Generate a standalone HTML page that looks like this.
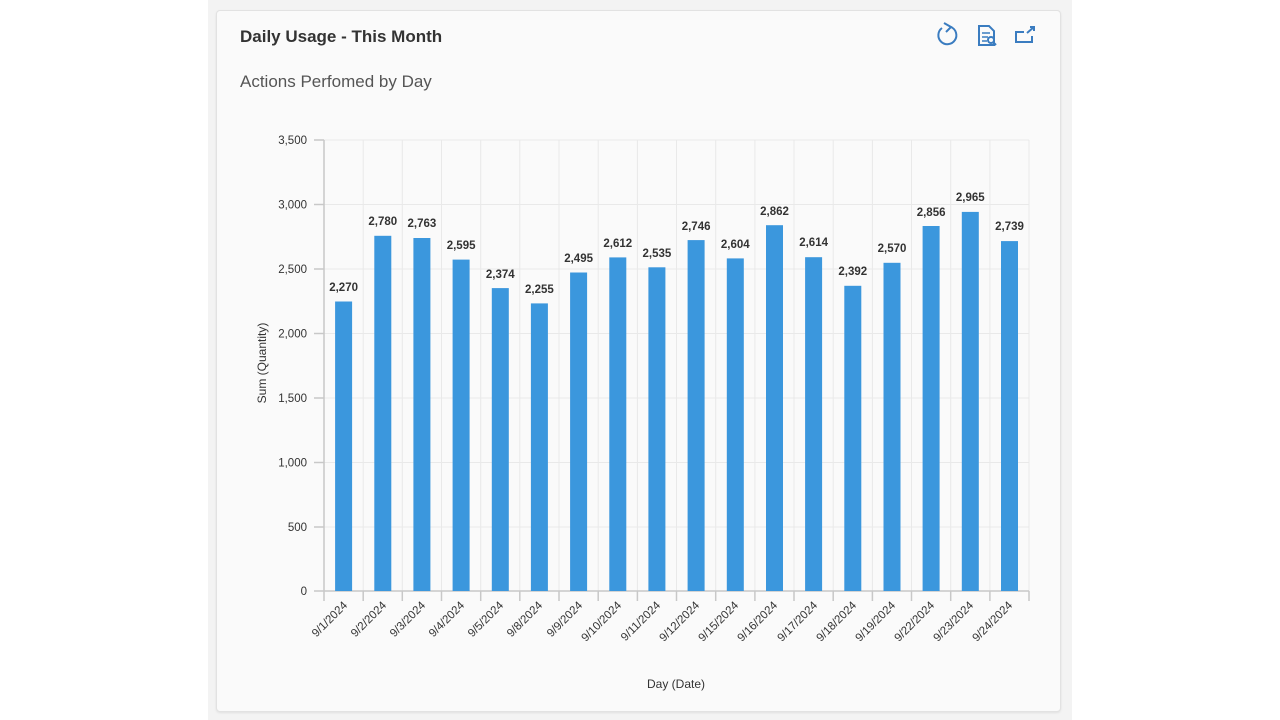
<!DOCTYPE html>
<html><head><meta charset="utf-8"><style>
body{margin:0;width:1280px;height:720px;background:#fff;font-family:"Liberation Sans",sans-serif;overflow:hidden}
.bg{position:absolute;left:208px;top:0;width:864px;height:720px;background:#f3f3f3}
.card{position:absolute;left:216px;top:10px;width:843px;height:700px;background:#fafafa;border:1px solid #e2e2e2;border-radius:4px;box-shadow:0 1px 2px rgba(0,0,0,.08)}
</style></head><body>
<div class="bg"></div><div class="card"></div>
<svg width="1280" height="720" style="position:absolute;left:0;top:0" font-family="Liberation Sans, sans-serif">
<text x="240" y="42" font-size="17" font-weight="bold" fill="#333">Daily Usage - This Month</text>
<text x="240" y="87" font-size="17" fill="#555">Actions Perfomed by Day</text>
<g fill="none" stroke="#3a7cc0" stroke-width="2">
<path d="M951 27 A9 9 0 1 1 942 28"/><path d="M944 23 L951 27 L946 32" />
<path d="M979 26 h10 l5 5 v14 h-15 z"/><path d="M982 33h8M982 37h6M982 41h5" stroke-width="1.4"/><circle cx="991" cy="40" r="3"/><path d="M993 42l3 3"/>
<path d="M1024 32 h-8 v10 h16 v-6"/><path d="M1027 33 l7-6 M1030 27h4v4"/>
</g>
<g stroke="#e9e9e9" stroke-width="1">
<path d="M324 140H1029M324 204.5H1029M324 269H1029M324 333.5H1029M324 398H1029M324 462.5H1029M324 527H1029"/>
<path d="M363.2 140V591M402.3 140V591M441.5 140V591M480.7 140V591M519.8 140V591M559 140V591M598.2 140V591M637.4 140V591M676.5 140V591M715.7 140V591M754.9 140V591M794 140V591M833.2 140V591M872.4 140V591M911.5 140V591M950.7 140V591M989.9 140V591M1029 140V591"/>
</g>
<g stroke="#c8c8c8" stroke-width="1.5">
<path d="M324 140V591M314 591H1029M314 140H324M314 204.5H324M314 269H324M314 333.5H324M314 398H324M314 462.5H324M314 527H324"/>
<path d="M324 591v10M363.2 591v10M402.3 591v10M441.5 591v10M480.7 591v10M519.8 591v10M559 591v10M598.2 591v10M637.4 591v10M676.5 591v10M715.7 591v10M754.9 591v10M794 591v10M833.2 591v10M872.4 591v10M911.5 591v10M950.7 591v10M989.9 591v10M1029 591v10"/>
</g>
<g font-size="11.5" fill="#333" text-anchor="end">
<text x="307" y="144">3,500</text><text x="307" y="208.5">3,000</text><text x="307" y="273">2,500</text><text x="307" y="337.5">2,000</text><text x="307" y="402">1,500</text><text x="307" y="466.5">1,000</text><text x="307" y="531">500</text><text x="307" y="595">0</text>
</g>
<g fill="#3b97dd">
<rect x="335.1" y="301.5" width="17" height="289.5"/>
<rect x="374.3" y="235.8" width="17" height="355.2"/>
<rect x="413.4" y="238" width="17" height="353"/>
<rect x="452.6" y="259.6" width="17" height="331.4"/>
<rect x="491.8" y="288.1" width="17" height="302.9"/>
<rect x="530.9" y="303.4" width="17" height="287.6"/>
<rect x="570.1" y="272.5" width="17" height="318.5"/>
<rect x="609.3" y="257.4" width="17" height="333.6"/>
<rect x="648.4" y="267.3" width="17" height="323.7"/>
<rect x="687.6" y="240.1" width="17" height="350.9"/>
<rect x="726.8" y="258.4" width="17" height="332.6"/>
<rect x="766" y="225.2" width="17" height="365.8"/>
<rect x="805.1" y="257.2" width="17" height="333.8"/>
<rect x="844.3" y="285.8" width="17" height="305.2"/>
<rect x="883.5" y="262.8" width="17" height="328.2"/>
<rect x="922.6" y="226" width="17" height="365"/>
<rect x="961.8" y="211.9" width="17" height="379.1"/>
<rect x="1001" y="241.1" width="17" height="349.9"/>
</g>
<g font-size="11.5" font-weight="bold" fill="#333" text-anchor="middle">
<text x="343.6" y="291">2,270</text><text x="382.8" y="225">2,780</text><text x="421.9" y="227">2,763</text><text x="461.1" y="249">2,595</text><text x="500.3" y="278">2,374</text><text x="539.4" y="293">2,255</text><text x="578.6" y="262">2,495</text><text x="617.8" y="247">2,612</text><text x="656.9" y="257">2,535</text><text x="696.1" y="230">2,746</text><text x="735.3" y="248">2,604</text><text x="774.5" y="215">2,862</text><text x="813.6" y="246">2,614</text><text x="852.8" y="275">2,392</text><text x="892" y="252">2,570</text><text x="931.1" y="216">2,856</text><text x="970.3" y="201">2,965</text><text x="1009.5" y="230">2,739</text>
</g>
<g font-size="11.5" fill="#333" text-anchor="end">
<text transform="translate(348,606) rotate(-45)">9/1/2024</text>
<text transform="translate(387,606) rotate(-45)">9/2/2024</text>
<text transform="translate(426,606) rotate(-45)">9/3/2024</text>
<text transform="translate(465,606) rotate(-45)">9/4/2024</text>
<text transform="translate(504,606) rotate(-45)">9/5/2024</text>
<text transform="translate(543,606) rotate(-45)">9/8/2024</text>
<text transform="translate(583,606) rotate(-45)">9/9/2024</text>
<text transform="translate(622,606) rotate(-45)">9/10/2024</text>
<text transform="translate(661,606) rotate(-45)">9/11/2024</text>
<text transform="translate(700,606) rotate(-45)">9/12/2024</text>
<text transform="translate(739,606) rotate(-45)">9/15/2024</text>
<text transform="translate(778,606) rotate(-45)">9/16/2024</text>
<text transform="translate(818,606) rotate(-45)">9/17/2024</text>
<text transform="translate(857,606) rotate(-45)">9/18/2024</text>
<text transform="translate(896,606) rotate(-45)">9/19/2024</text>
<text transform="translate(935,606) rotate(-45)">9/22/2024</text>
<text transform="translate(974,606) rotate(-45)">9/23/2024</text>
<text transform="translate(1013,606) rotate(-45)">9/24/2024</text>
</g>
<text x="676" y="688" font-size="12" fill="#333" text-anchor="middle">Day (Date)</text>
<text transform="translate(266,363) rotate(-90)" font-size="12" fill="#333" text-anchor="middle">Sum (Quantity)</text>
</svg>
</body></html>
